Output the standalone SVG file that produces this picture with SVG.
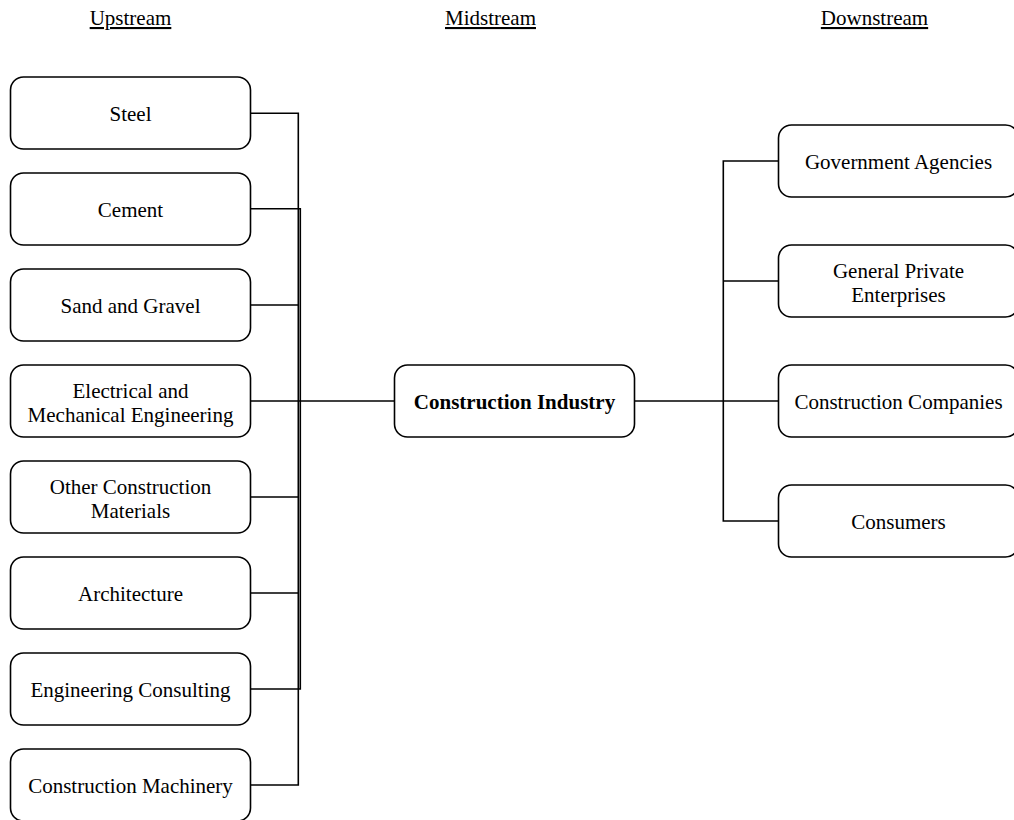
<svg xmlns="http://www.w3.org/2000/svg" width="1014" height="820" viewBox="0 0 1014 820">
<style>
.box{fill:#fff;stroke:#000;stroke-width:1.6}
.t{font-family:"Liberation Serif","Times New Roman",serif;font-size:21px;fill:#000;text-anchor:middle}
.b{font-weight:bold}
.h{text-decoration:underline}
.ln{fill:none;stroke:#000;stroke-width:1.6}
</style>
<rect width="1014" height="820" fill="#fff"/>
<g id="headers">
<text class="t h" x="130.5" y="25">Upstream</text>
<text class="t h" x="490.5" y="25">Midstream</text>
<text class="t h" x="874.5" y="25">Downstream</text>
</g>
<g id="connectors">
<path class="ln" d="M251 113.3H298.3V785H251"/>
<path class="ln" d="M251 208.8H300.3V689H251"/>
<path class="ln" d="M251 305H298.3M251 401H298.3M251 497H298.3M251 593H298.3"/>
<path class="ln" d="M298.3 401H394"/>
<path class="ln" d="M635 401H779"/>
<path class="ln" d="M779 161H723.3V521H779M723.3 281H779"/>
</g>
<g id="n-steel"><rect class="box" x="10.5" y="77" width="240" height="72" rx="13"/><text class="t" x="130.5" y="120.5">Steel</text></g>
<g id="n-cement"><rect class="box" x="10.5" y="173" width="240" height="72" rx="13"/><text class="t" x="130.5" y="216.5">Cement</text></g>
<g id="n-sand"><rect class="box" x="10.5" y="269" width="240" height="72" rx="13"/><text class="t" x="130.5" y="312.5">Sand and Gravel</text></g>
<g id="n-electrical"><rect class="box" x="10.5" y="365" width="240" height="72" rx="13"/><text class="t" x="130.5" y="397.5">Electrical and</text><text class="t" x="130.5" y="421.5">Mechanical Engineering</text></g>
<g id="n-other"><rect class="box" x="10.5" y="461" width="240" height="72" rx="13"/><text class="t" x="130.5" y="494">Other Construction</text><text class="t" x="130.5" y="517.5">Materials</text></g>
<g id="n-architecture"><rect class="box" x="10.5" y="557" width="240" height="72" rx="13"/><text class="t" x="130.5" y="600.5">Architecture</text></g>
<g id="n-consulting"><rect class="box" x="10.5" y="653" width="240" height="72" rx="13"/><text class="t" x="130.5" y="696.5">Engineering Consulting</text></g>
<g id="n-machinery"><rect class="box" x="10.5" y="749" width="240" height="72" rx="13"/><text class="t" x="130.5" y="792.5">Construction Machinery</text></g>
<g id="n-industry"><rect class="box" x="394.5" y="365" width="240" height="72" rx="13"/><text class="t b" x="514.5" y="408.5">Construction Industry</text></g>
<g id="n-government"><rect class="box" x="778.5" y="125" width="240" height="72" rx="13"/><text class="t" x="898.5" y="168.5">Government Agencies</text></g>
<g id="n-private"><rect class="box" x="778.5" y="245" width="240" height="72" rx="13"/><text class="t" x="898.5" y="278">General Private</text><text class="t" x="898.5" y="301.5">Enterprises</text></g>
<g id="n-companies"><rect class="box" x="778.5" y="365" width="240" height="72" rx="13"/><text class="t" x="898.5" y="408.5">Construction Companies</text></g>
<g id="n-consumers"><rect class="box" x="778.5" y="485" width="240" height="72" rx="13"/><text class="t" x="898.5" y="528.5">Consumers</text></g>
</svg>
